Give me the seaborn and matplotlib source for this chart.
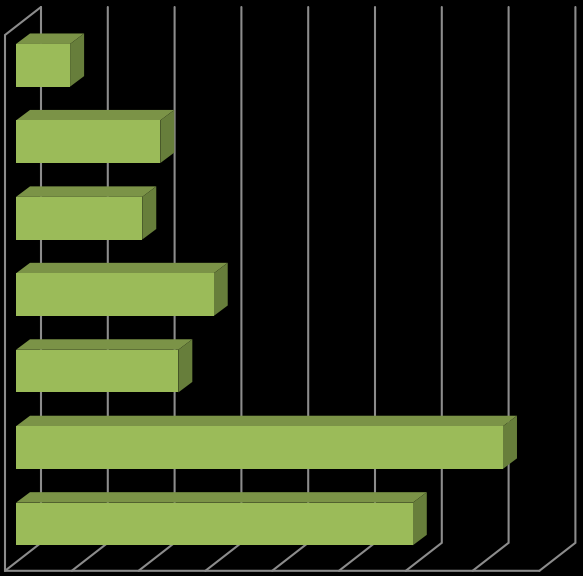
import matplotlib
matplotlib.use("Agg")
import matplotlib.pyplot as plt
import pandas as pd
import seaborn as sns

# values, top bar first (the chart shows no labels)
categories = ["1", "2", "3", "4", "5", "6", "7"]
values = [0.81, 2.16, 1.89, 2.96, 2.43, 7.29, 5.94]
grid_ticks = [0, 1, 2, 3, 4, 5, 6, 7, 8]

FRONT = "#9BBB59"
TOP = "#7B9347"
SIDE = "#677E3B"
GRID = "#8C8C8C"

# pixel scale of the axes
PX_X = 66.8
PX_Y = 76.45
W, H = 583, 576

# depth of the bars and of the floor, in data units
BAR_DX, BAR_DY = 14 / PX_X, -10.5 / PX_Y
FLOOR_DX, FLOOR_DY = 36 / PX_X, -28 / PX_Y
FLOOR_X0 = -11 / PX_X
FLOOR_Y = 505.5 / PX_Y
WALL_TOP = -30.3 / PX_Y

sns.set_theme(style="white")
df = pd.DataFrame({"category": categories, "value": values})

fig = plt.figure(figsize=(W / 100, H / 100), dpi=100, facecolor="black")
ax = fig.add_axes([0, 0, 1, 1])
ax.set_facecolor("black")

sns.barplot(data=df, x="value", y="category", color=FRONT, saturation=1,
            width=0.558, linewidth=0, ax=ax, zorder=3)
ax.set_xlim(-16 / PX_X, (W - 16) / PX_X)
ax.set_ylim(510.7 / PX_Y, -65.3 / PX_Y)
ax.set_axis_off()

# back wall lines and floor lines
line = dict(color=GRID, lw=1.5, solid_joinstyle="miter", zorder=1)
for t in grid_ticks:
    x = FLOOR_X0 + t
    ax.plot([x, x + FLOOR_DX, x + FLOOR_DX],
            [FLOOR_Y, FLOOR_Y + FLOOR_DY, WALL_TOP + FLOOR_DY], **line)
# front left wall edge and front floor edge
ax.plot([FLOOR_X0 + grid_ticks[-1], FLOOR_X0, FLOOR_X0, FLOOR_X0 + FLOOR_DX],
        [FLOOR_Y, FLOOR_Y, WALL_TOP, WALL_TOP + FLOOR_DY], **line)

# fake the 3d look: top and side face on every bar
for bar in list(ax.patches):
    x0 = bar.get_x()
    x1 = x0 + bar.get_width()
    y0 = bar.get_y()
    y1 = y0 + bar.get_height()
    ax.fill([x0, x1, x1 + BAR_DX, x0 + BAR_DX],
            [y0, y0, y0 + BAR_DY, y0 + BAR_DY], color=TOP, lw=0, zorder=2)
    ax.fill([x1, x1 + BAR_DX, x1 + BAR_DX, x1],
            [y0, y0 + BAR_DY, y1 + BAR_DY, y1], color=SIDE, lw=0, zorder=2)

fig.savefig("out.png", dpi=100, facecolor="black")
